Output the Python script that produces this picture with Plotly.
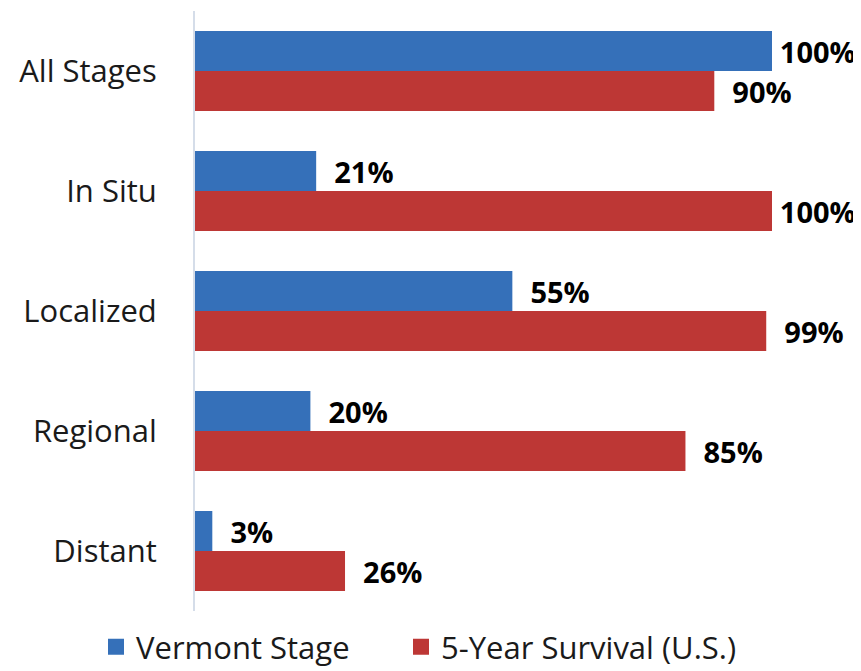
import plotly.graph_objects as go

categories = ["All Stages", "In Situ", "Localized", "Regional", "Distant"]
vermont_stage = [100, 21, 55, 20, 3]
survival_us = [90, 100, 99, 85, 26]
series_names = ["Vermont Stage", "5-Year Survival (U.S.)"]
colors = ["#3570b9", "#bd3735"]

FONT = "Open Sans"
W, H = 853, 663  # page has an 8px body margin


def labels(vals):
    return [("\u2009" if v >= 100 else "  ") + f"{v}%" for v in vals]


fig = go.Figure()
for name, vals, col in zip(series_names, [vermont_stage, survival_us], colors):
    fig.add_trace(go.Bar(
        y=categories, x=vals, orientation="h", name=name, showlegend=False,
        marker=dict(color=col, line=dict(width=0)),
        text=labels(vals), textposition="outside",
        textfont=dict(family=FONT, size=29, color="black", weight="bold"),
        cliponaxis=False,
    ))
# legend entries (square swatches), one legend per entry for exact placement
for name, col, lg in zip(series_names, colors, ["legend", "legend2"]):
    fig.add_trace(go.Scatter(
        x=[None], y=[None], mode="markers", name=name, legend=lg,
        marker=dict(symbol="square", size=17, color=col),
    ))

legend_common = dict(orientation="h", xref="container", yref="container",
                     xanchor="left", yanchor="middle", y=0.036,
                     font=dict(family=FONT, size=31, color="#1a1a1a"),
                     bgcolor="rgba(0,0,0,0)")

fig.update_layout(
    width=W, height=H,
    margin=dict(l=187, r=89, t=3, b=60, autoexpand=False),
    barmode="group", bargap=1/3, bargroupgap=0,
    plot_bgcolor="white", paper_bgcolor="white",
    font=dict(family=FONT, size=30, color="#1a1a1a"),
    showlegend=True,
    legend=dict(x=88 / W, **legend_common),
    legend2=dict(x=393 / W, **legend_common),
)
fig.update_xaxes(range=[0, 100], visible=False, showgrid=False, zeroline=False)
fig.update_yaxes(autorange="reversed", showgrid=False, zeroline=False,
                 automargin=False,
                 showline=True, linecolor="#d5dde9", linewidth=2,
                 ticks="", ticklabelstandoff=30,
                 tickfont=dict(family=FONT, size=31, color="#1a1a1a"))

fig.write_html("out.html")
